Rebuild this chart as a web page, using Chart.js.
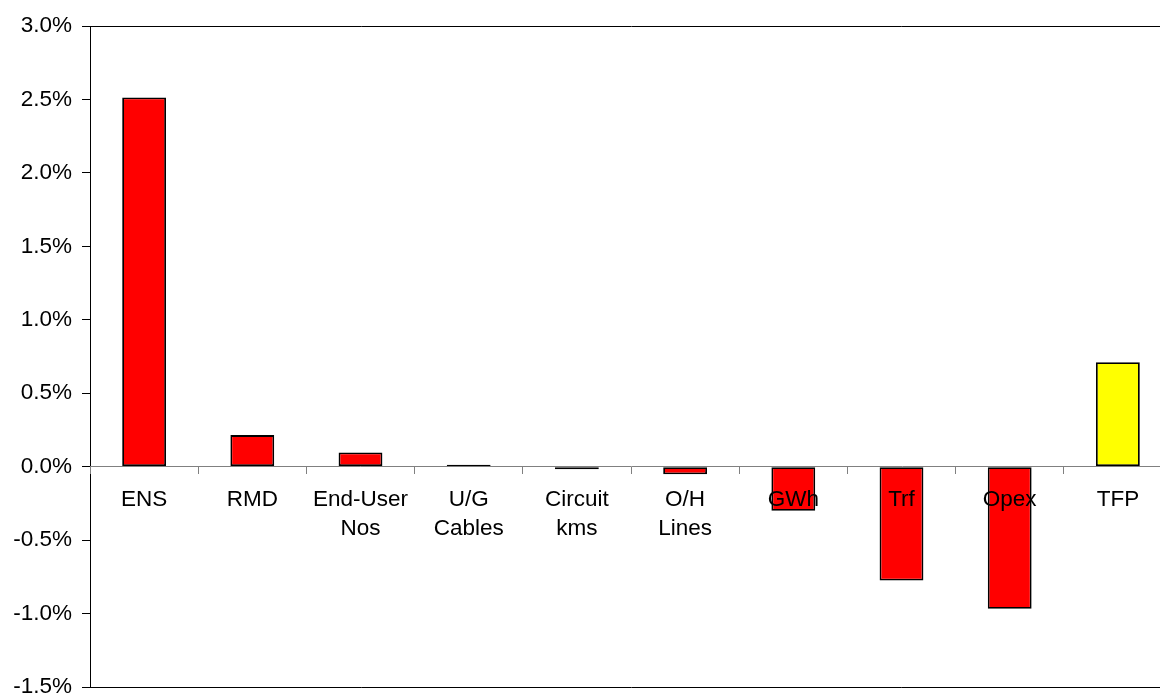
<!DOCTYPE html>
<html>
<head>
<meta charset="utf-8">
<script src="https://cdn.jsdelivr.net/npm/chart.js@4/dist/chart.umd.min.js"></script>
<style>
  html, body { margin: 0; padding: 0; background: #fff; overflow: hidden; }
  #wrap { position: relative; width: 1180px; height: 705px; }
</style>
</head>
<body>
<div id="wrap"><canvas id="c" width="1180" height="705"></canvas></div>
<script>
// Annual change by input/output component (percent)
const categories = [
  ['ENS'], ['RMD'], ['End-User', 'Nos'], ['U/G', 'Cables'], ['Circuit', 'kms'],
  ['O/H', 'Lines'], ['GWh'], ['Trf'], ['Opex'], ['TFP']
];
const changePct = [2.513, 0.215, 0.096, 0.013, -0.018, -0.052, -0.30, -0.775, -0.967, 0.711];
const barColours = ['#FF0000', '#FF0000', '#FF0000', '#FF0000', '#FF0000',
                    '#FF0000', '#FF0000', '#FF0000', '#FF0000', '#FFFF00'];
const yMin = -1.5;
const yMax = 3.0;
const yStep = 0.5;

const font = { family: '"Liberation Sans", Arial, sans-serif', size: 22.5 };

new Chart(document.getElementById('c'), {
  type: 'bar',
  data: {
    labels: categories,
    datasets: [{
      data: changePct,
      backgroundColor: barColours,
      borderColor: '#000',
      borderWidth: 1.8,
      borderSkipped: false,
      barPercentage: 0.405,
      categoryPercentage: 1.0
    }]
  },
  options: {
    responsive: false,
    animation: false,
    devicePixelRatio: 1,
    layout: { padding: { left: 0, top: 26, right: 8, bottom: 18 } },
    plugins: { legend: { display: false }, tooltip: { enabled: false } },
    scales: {
      x: {
        position: { y: 0 },
        offset: true,
        grid: {
          offset: true,
          drawOnChartArea: false,
          tickLength: 7,
          color: '#808080',
          lineWidth: 1,
          z: 1
        },
        border: { color: '#808080', width: 1, z: 1 },
        ticks: {
          font: { ...font, lineHeight: 1.29 },
          color: '#000',
          padding: 12,
          maxRotation: 0,
          autoSkip: false,
          z: 2
        }
      },
      y: {
        min: yMin,
        max: yMax,
        afterFit(scale) {
          scale.width = 90;
          scale.paddingTop = 0;
          scale.paddingBottom = 0;
        },
        grid: {
          color: (ctx) => (ctx.tick && (ctx.tick.value === yMax || ctx.tick.value === yMin)) ? '#000' : 'rgba(0,0,0,0)',
          tickColor: '#000',
          tickLength: 8,
          lineWidth: 1
        },
        border: { color: '#000', width: 1 },
        ticks: {
          stepSize: yStep,
          font: font,
          color: '#000',
          padding: 10,
          callback: (v) => v.toFixed(1) + '%'
        }
      }
    }
  }
});
</script>
</body>
</html>
